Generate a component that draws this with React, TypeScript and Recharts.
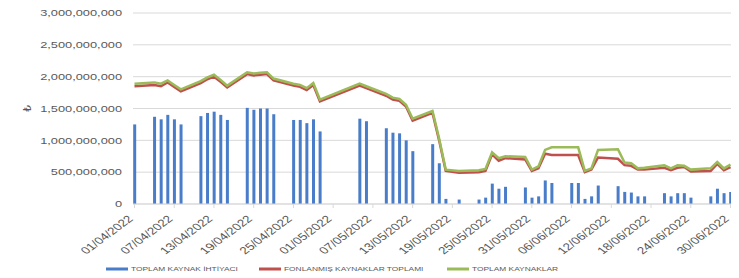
import React from 'react';
import { ComposedChart, Bar, Line, XAxis, YAxis, CartesianGrid, Legend } from 'recharts';

// Business days (dd/mm/2022)
const dates = [
  '01/04','04/04','05/04','06/04','07/04','08/04',
  '11/04','12/04','13/04','14/04','15/04',
  '18/04','19/04','20/04','21/04','22/04',
  '25/04','26/04','27/04','28/04','29/04',
  '05/05','06/05',
  '09/05','10/05','11/05','12/05','13/05',
  '16/05','17/05','18/05','20/05',
  '23/05','24/05','25/05','26/05','27/05',
  '30/05','31/05','01/06','02/06','03/06',
  '06/06','07/06','08/06','09/06','10/06',
  '13/06','14/06','15/06','16/06','17/06',
  '20/06','21/06','22/06','23/06','24/06',
  '27/06','28/06','29/06','30/06',
];

// Values in billions of TL
const toplamKaynakIhtiyaci = [
  1.25,1.37,1.33,1.40,1.33,1.25,
  1.38,1.43,1.45,1.40,1.32,
  1.51,1.48,1.50,1.50,1.41,
  1.32,1.32,1.27,1.33,1.14,
  1.34,1.30,
  1.19,1.12,1.11,1.00,0.83,
  0.94,0.64,0.08,0.07,
  0.07,0.10,0.32,0.24,0.27,
  0.26,0.10,0.12,0.37,0.33,
  0.33,0.33,0.08,0.12,0.29,
  0.28,0.19,0.18,0.12,0.12,
  0.17,0.12,0.17,0.17,0.10,
  0.12,0.24,0.17,0.19,
];

const fonlanmisKaynaklar = [
  1.85,1.87,1.85,1.91,1.84,1.77,
  1.90,1.96,2.00,1.92,1.83,
  2.04,2.02,2.03,2.04,1.94,
  1.86,1.84,1.79,1.87,1.61,
  1.86,1.82,
  1.70,1.64,1.62,1.53,1.31,
  1.43,1.00,0.52,0.49,
  0.50,0.52,0.78,0.68,0.72,
  0.70,0.52,0.56,0.79,0.77,
  0.77,0.77,0.50,0.54,0.73,
  0.71,0.61,0.60,0.54,0.54,
  0.57,0.53,0.57,0.58,0.51,
  0.52,0.63,0.53,0.58,
];

const toplamKaynaklar = [
  1.89,1.91,1.89,1.94,1.87,1.80,
  1.93,1.99,2.03,1.95,1.86,
  2.07,2.05,2.06,2.07,1.97,
  1.89,1.87,1.82,1.90,1.64,
  1.89,1.85,
  1.73,1.67,1.65,1.56,1.34,
  1.46,1.03,0.54,0.52,
  0.53,0.55,0.81,0.72,0.75,
  0.74,0.54,0.59,0.85,0.89,
  0.89,0.89,0.52,0.56,0.85,
  0.86,0.65,0.64,0.56,0.57,
  0.61,0.56,0.61,0.60,0.54,
  0.56,0.66,0.56,0.62,
];

const tickLabels = [
  '01/04/2022','07/04/2022','13/04/2022','19/04/2022','25/04/2022','01/05/2022',
  '07/05/2022','13/05/2022','19/05/2022','25/05/2022','31/05/2022','06/06/2022',
  '12/06/2022','18/06/2022','24/06/2022','30/06/2022',
];

const yTicks = [0, 500000000, 1000000000, 1500000000, 2000000000, 2500000000, 3000000000];

const UNIT = 1e9;
const START = Date.UTC(2022, 3, 1);
const dayIndex = (s: string) => {
  const [dd, mm] = s.split('/').map(Number);
  return Math.round((Date.UTC(2022, mm - 1, dd) - START) / 86400000);
};

const data = dates.map((d, i) => ({
  day: dayIndex(d),
  ihtiyac: toplamKaynakIhtiyaci[i] * UNIT,
  fonlanmis: fonlanmisKaynaklar[i] * UNIT,
  toplam: toplamKaynaklar[i] * UNIT,
}));

const tickDays = tickLabels.map(dayIndex);
const labelByDay: Record<number, string> = {};
tickLabels.forEach((l) => { labelByDay[dayIndex(l)] = l; });

const BLUE = '#4a7dc9';
const RED = '#c0504d';
const GREEN = '#9bbb59';
const TEXT = '#595959';
const FONT = '"Liberation Sans", Arial, sans-serif';
const SX = 1.35;

const fmt = (v: number) => v.toLocaleString('en-US');

const YTick = (props: any) => {
  const { x, y, payload } = props;
  return (
    <g transform={`translate(${x},${y}) scale(${SX},1)`}>
      <text textAnchor="end" dy="0.35em" fontSize={9.5} fill={TEXT} fontFamily={FONT}>
        {fmt(payload.value)}
      </text>
    </g>
  );
};

const XTick = (props: any) => {
  const { x, y, payload } = props;
  return (
    <g transform={`translate(${x - 4},${y + 5}) scale(${SX},1) rotate(-45)`}>
      <text textAnchor="end" dy="0.35em" fontSize={10} fill={TEXT} fontFamily={FONT}>
        {labelByDay[payload.value]}
      </text>
    </g>
  );
};

const legendItems = [
  { name: 'TOPLAM KAYNAK İHTİYACI', color: BLUE, x: 98 },
  { name: 'FONLANMIŞ KAYNAKLAR TOPLAMI', color: RED, x: 251 },
  { name: 'TOPLAM KAYNAKLAR', color: GREEN, x: 439 },
];

const LegendContent = () => (
  <svg width={731} height={16} style={{ display: 'block' }}>
    {legendItems.map((it) => (
      <g key={it.name}>
        <rect x={it.x} y={5.5} width={22} height={3} fill={it.color} />
        <g transform={`translate(${it.x + 25},9.3) scale(${SX},1)`}>
          <text fontSize={6.2} fill={TEXT} fontFamily={FONT}>{it.name}</text>
        </g>
      </g>
    ))}
  </svg>
);

const YLabel = (props: any) => {
  const vb = props.viewBox || { x: 0, y: 0, height: 0 };
  const cx = vb.x + 19;
  const cy = vb.y + vb.height / 2;
  return (
    <text x={cx} y={cy} transform={`rotate(-90, ${cx}, ${cy})`} textAnchor="middle" dy="0.35em"
      fontSize={10.5} fill={TEXT} fontFamily='"DejaVu Sans", sans-serif'>₺</text>
  );
};

export default function App() {
  return (
    <ComposedChart
      width={731}
      height={270}
      data={data}
      margin={{ top: 5, right: 7, bottom: 0, left: 0 }}
    >
      <CartesianGrid vertical={false} stroke="#d9d9d9" strokeWidth={1} />
      <XAxis
        dataKey="day"
        type="number"
        domain={[0, 90]}
        ticks={tickDays}
        interval={0}
        padding={{ left: 1.5, right: 1.5 }}
        height={58}
        axisLine={{ stroke: '#d9d9d9' }}
        tickLine={{ stroke: '#d9d9d9' }}
        tickSize={4}
        tickMargin={4}
        tick={<XTick />}
      />
      <YAxis
        domain={[0, 3000000000]}
        ticks={yTicks}
        interval={0}
        width={125}
        axisLine={false}
        tickLine={false}
        tickSize={0}
        tickMargin={11}
        tick={<YTick />}
        label={<YLabel />}
      />
      <Legend verticalAlign="bottom" height={16} content={<LegendContent />} wrapperStyle={{ left: 0, bottom: 0 }} />
      <Bar dataKey="ihtiyac" name="TOPLAM KAYNAK İHTİYACI" fill={BLUE} barSize={3} isAnimationActive={false} />
      <Line dataKey="fonlanmis" name="FONLANMIŞ KAYNAKLAR TOPLAMI" stroke={RED} strokeWidth={2.5} dot={false} type="linear" isAnimationActive={false} />
      <Line dataKey="toplam" name="TOPLAM KAYNAKLAR" stroke={GREEN} strokeWidth={2.5} dot={false} type="linear" isAnimationActive={false} />
    </ComposedChart>
  );
}
